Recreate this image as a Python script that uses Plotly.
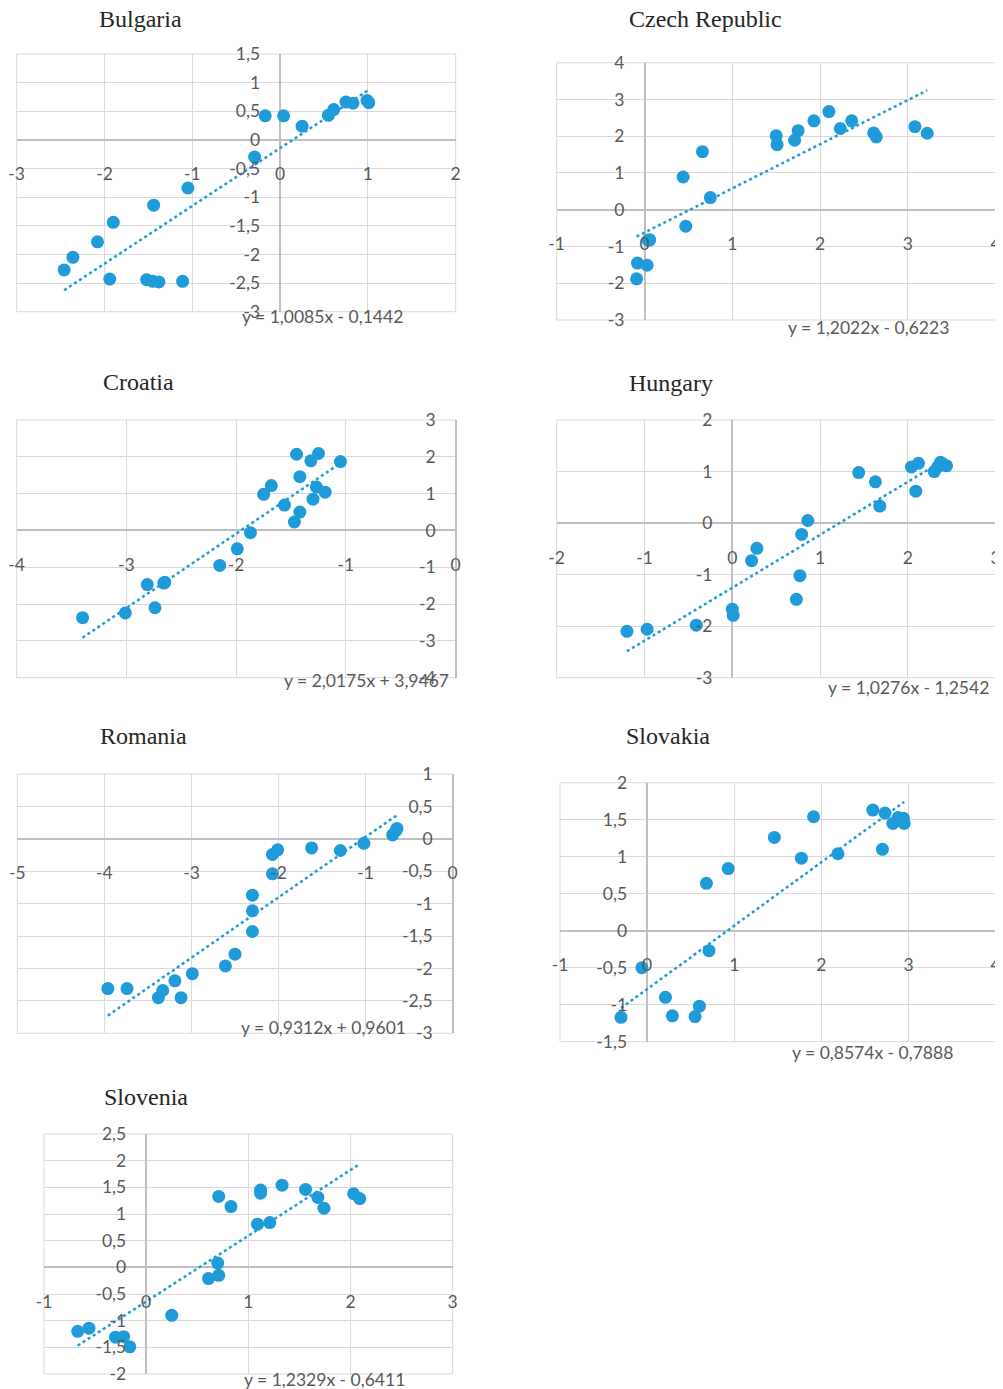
import plotly.graph_objects as go

W, H = 1003, 1389
OFF = 8  # the page places the figure 8px in from the top-left corner

countries = ["Bulgaria", "Czech Republic", "Croatia", "Hungary", "Romania", "Slovakia", "Slovenia"]

bulgaria_x = [-2.46, -2.36, -2.08, -1.90, -1.94, -1.44, -1.52, -1.45, -1.38, -1.11, -1.05,
              -0.29, -0.17, 0.04, 0.25, 0.55, 0.61, 0.75, 0.83, 0.99, 1.01]
bulgaria_y = [-2.27, -2.05, -1.78, -1.44, -2.43, -1.14, -2.44, -2.47, -2.48, -2.47, -0.84,
              -0.30, 0.42, 0.42, 0.24, 0.43, 0.53, 0.66, 0.64, 0.69, 0.65]

czech_x = [-0.09, -0.08, 0.03, 0.04, 0.06, 0.44, 0.47, 0.66, 0.75, 1.50, 1.51,
           1.71, 1.75, 1.93, 2.10, 2.23, 2.36, 2.61, 2.64, 3.08, 3.22]
czech_y = [-1.88, -1.45, -1.51, -0.83, -0.82, 0.89, -0.45, 1.58, 0.33, 2.01, 1.77,
           1.89, 2.15, 2.42, 2.67, 2.21, 2.42, 2.09, 1.98, 2.26, 2.08]

croatia_x = [-3.40, -3.01, -2.81, -2.74, -2.65, -2.66, -2.15, -1.99, -1.87, -1.75, -1.68,
             -1.56, -1.47, -1.45, -1.42, -1.42, -1.32, -1.30, -1.27, -1.25, -1.19, -1.05]
croatia_y = [-2.37, -2.24, -1.47, -2.10, -1.41, -1.43, -0.95, -0.50, -0.06, 0.98, 1.22,
             0.69, 0.23, 2.07, 1.46, 0.50, 1.89, 0.85, 1.18, 2.09, 1.04, 1.87]

hungary_x = [-1.20, -0.97, -0.41, 0.00, 0.01, 0.22, 0.28, 0.73, 0.77, 0.79, 0.86,
             1.44, 1.63, 1.68, 2.04, 2.09, 2.12, 2.30, 2.34, 2.37, 2.44]
hungary_y = [-2.10, -2.06, -1.98, -1.67, -1.79, -0.73, -0.49, -1.48, -1.02, -0.22, 0.05,
             0.98, 0.80, 0.33, 1.09, 0.62, 1.16, 1.00, 1.09, 1.18, 1.11]

romania_x = [-3.96, -3.74, -3.38, -3.33, -3.12, -3.19, -2.99, -2.61, -2.50, -2.30, -2.30,
             -2.30, -2.07, -2.07, -2.01, -1.62, -1.29, -1.02, -0.69, -0.65, -0.64]
romania_y = [-2.31, -2.31, -2.45, -2.34, -2.45, -2.19, -2.08, -1.96, -1.78, -1.43, -1.11,
             -0.87, -0.54, -0.24, -0.17, -0.14, -0.18, -0.07, 0.06, 0.13, 0.16]

slovakia_x = [-0.30, -0.06, 0.21, 0.29, 0.55, 0.60, 0.68, 0.71, 0.93, 1.46, 1.77,
              1.91, 2.19, 2.59, 2.70, 2.73, 2.82, 2.88, 2.94, 2.95]
slovakia_y = [-1.17, -0.50, -0.90, -1.15, -1.16, -1.02, 0.64, -0.27, 0.84, 1.26, 0.98,
              1.54, 1.04, 1.63, 1.10, 1.59, 1.45, 1.53, 1.52, 1.45]

slovenia_x = [-0.67, -0.56, -0.30, -0.22, -0.16, 0.25, 0.61, 0.70, 0.71, 0.71, 0.83,
              1.09, 1.12, 1.12, 1.21, 1.33, 1.56, 1.68, 1.74, 2.03, 2.09]
slovenia_y = [-1.20, -1.14, -1.31, -1.30, -1.49, -0.90, -0.21, 0.08, -0.15, 1.33, 1.14,
              0.81, 1.45, 1.39, 0.84, 1.54, 1.46, 1.31, 1.11, 1.38, 1.29]

slopes = [1.0085, 1.2022, 2.0175, 1.0276, 0.9312, 0.8574, 1.2329]
intercepts = [-0.1442, -0.6223, 3.9467, -1.2542, 0.9601, -0.7888, -0.6411]
equations = ["y = 1,0085x - 0,1442", "y = 1,2022x - 0,6223", "y = 2,0175x + 3,9467",
             "y = 1,0276x - 1,2542", "y = 0,9312x + 0,9601", "y = 0,8574x - 0,7888",
             "y = 1,2329x - 0,6411"]

x_ticks = [[-3, -2, -1, 0, 1, 2],
           [-1, 0, 1, 2, 3, 4],
           [-4, -3, -2, -1, 0],
           [-2, -1, 0, 1, 2, 3],
           [-5, -4, -3, -2, -1, 0],
           [-1, 0, 1, 2, 3, 4],
           [-1, 0, 1, 2, 3]]
y_ticks = [[-3, -2.5, -2, -1.5, -1, -0.5, 0, 0.5, 1, 1.5],
           [-3, -2, -1, 0, 1, 2, 3, 4],
           [-4, -3, -2, -1, 0, 1, 2, 3],
           [-3, -2, -1, 0, 1, 2],
           [-3, -2.5, -2, -1.5, -1, -0.5, 0, 0.5, 1],
           [-1.5, -1, -0.5, 0, 0.5, 1, 1.5, 2],
           [-2, -1.5, -1, -0.5, 0, 0.5, 1, 1.5, 2, 2.5]]

xs_all = [bulgaria_x, czech_x, croatia_x, hungary_x, romania_x, slovakia_x, slovenia_x]
ys_all = [bulgaria_y, czech_y, croatia_y, hungary_y, romania_y, slovakia_y, slovenia_y]

# ---- layout (pixel boxes of plot areas on the screen: left, right, top, bottom) ----
boxes = [(16.7, 455.7, 54, 311.7), (556.7, 995.7, 62.7, 320),
         (16.7, 455.7, 420, 677.7), (556.7, 995.7, 420, 677.7),
         (17.3, 452.7, 774, 1033.3), (560, 995.7, 782.7, 1041.7),
         (44, 452.7, 1134, 1374)]
title_pos = [(140, 19), (705, 19), (138, 382), (671, 383), (143, 736), (668, 736), (146, 1097)]
eq_pos = [(322, 317), (868, 327), (366, 681), (908, 688), (323, 1027), (872, 1052), (324, 1379)]

BLUE = "#1F9BD9"
GRID = "#D9D9D9"
ZERO = "#BFBFBF"
LABEL = "#595959"
TICKFONT = dict(family="Lato, 'Open Sans', sans-serif", size=17.5, color=LABEL)


def fx(px):
    return (px - OFF) / W


def fy(py):
    return 1 - (py - OFF) / H


def fmt(v):
    return ("%g" % v).replace(".", ",")


fig = go.Figure()
annotations = []
shapes = []
layout_axes = {}

for i in range(7):
    sfx = "" if i == 0 else str(i + 1)
    xs, ys = xs_all[i], ys_all[i]
    fig.add_trace(go.Scatter(x=xs, y=ys, mode="markers",
                             marker=dict(size=13, color=BLUE),
                             xaxis="x" + sfx, yaxis="y" + sfx, showlegend=False))
    lo, hi = min(xs), max(xs)
    fig.add_trace(go.Scatter(x=[lo, hi], y=[slopes[i] * lo + intercepts[i], slopes[i] * hi + intercepts[i]],
                             mode="lines", line=dict(color=BLUE, width=2.5, dash="dot"),
                             xaxis="x" + sfx, yaxis="y" + sfx, showlegend=False))

    l, r, t, b = boxes[i]
    xt, yt = x_ticks[i], y_ticks[i]
    xmin, xmax = xt[0], xt[-1]
    ymin, ymax = yt[0], yt[-1]
    # position of the crossing axes (at zero) in screen pixels
    y0_pix = b - (0 - ymin) / (ymax - ymin) * (b - t)
    x0_pix = l + (0 - xmin) / (xmax - xmin) * (r - l)

    layout_axes["xaxis" + sfx] = dict(
        domain=[fx(l), fx(r)], range=[xmin, xmax], tickvals=xt, ticktext=[fmt(v) for v in xt],
        anchor="free", position=fy(y0_pix), side="bottom",
        showgrid=True, gridcolor=GRID, gridwidth=1,
        zeroline=True, zerolinecolor=ZERO, zerolinewidth=1.5,
        showline=False, ticks="", tickfont=TICKFONT, ticklabelstandoff=22,
        ticklabeloverflow="allow", fixedrange=True)
    layout_axes["yaxis" + sfx] = dict(
        domain=[fy(b), fy(t)], range=[ymin, ymax], tickvals=yt, ticktext=[fmt(v) for v in yt],
        anchor="free", position=fx(x0_pix), side="left",
        showgrid=True, gridcolor=GRID, gridwidth=1,
        zeroline=True, zerolinecolor=ZERO, zerolinewidth=1.5,
        showline=False, ticks="", tickfont=TICKFONT, ticklabelstandoff=20,
        ticklabeloverflow="allow", fixedrange=True)

    shapes.append(dict(type="rect", xref="paper", yref="paper",
                       x0=fx(l), x1=fx(r), y0=fy(b), y1=fy(t),
                       line=dict(color=GRID, width=1), layer="below"))

    annotations.append(dict(text=countries[i], x=fx(title_pos[i][0]), y=fy(title_pos[i][1]),
                            xref="paper", yref="paper", xanchor="center", yanchor="middle",
                            showarrow=False, borderpad=0,
                            font=dict(family="'Liberation Serif', 'DejaVu Serif', serif", size=24, color="#262626")))
    annotations.append(dict(text=equations[i], x=fx(eq_pos[i][0]), y=fy(eq_pos[i][1]),
                            xref="paper", yref="paper", xanchor="center", yanchor="middle",
                            showarrow=False, borderpad=0,
                            font=dict(family="Lato, 'Open Sans', sans-serif", size=17.5, color=LABEL)))

fig.update_layout(width=W, height=H, autosize=False,
                  margin=dict(l=0, r=0, t=0, b=0, pad=0, autoexpand=False),
                  paper_bgcolor="white", plot_bgcolor="white",
                  annotations=annotations, shapes=shapes, **layout_axes)

fig.write_html("out.html")
